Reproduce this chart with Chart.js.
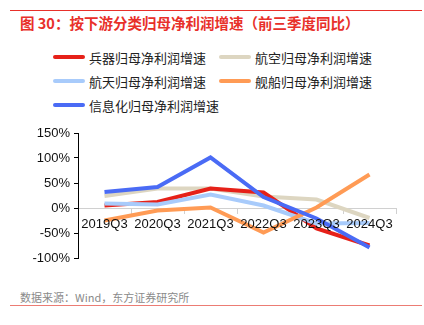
<!DOCTYPE html>
<html lang="zh">
  <head>
    <meta charset="UTF-8" />
    <title>按下游分类归母净利润增速</title>
    <script src="https://cdn.jsdelivr.net/npm/chart.js"></script>
    <style>
      body {
        margin: 0;
        width: 424px;
        height: 325px;
        background: #fff;
        position: relative;
        overflow: hidden;
        font-family: "Noto Sans CJK SC", "Noto Sans", sans-serif;
      }
      .rule {
        position: absolute;
        left: 10px;
        width: 412px;
        height: 1px;
      }
      .title {
        position: absolute;
        left: 20px;
        top: 12px;
        font-size: 14.5px;
        font-weight: bold;
        color: #e8302a;
        white-space: nowrap;
      }
      .source {
        position: absolute;
        left: 20px;
        top: 289px;
        font-size: 11px;
        color: #8a8a8a;
        white-space: nowrap;
      }
      #legend {
        position: absolute;
        left: 0;
        top: 0;
      }
      .item {
        position: absolute;
        height: 20px;
        display: flex;
        align-items: center;
        font-size: 13px;
        color: #222;
        white-space: nowrap;
      }
      .item i {
        display: inline-block;
        width: 32px;
        height: 4px;
        border-radius: 2px;
        margin-right: 4px;
      }
      #wrap {
        position: absolute;
        left: 0;
        top: 120px;
        width: 424px;
        height: 150px;
      }
    </style>
  </head>
  <body>
    <div class="rule" style="top: 10px; background: #e8302a"></div>
    <div class="title">图 30：按下游分类归母净利润增速（前三季度同比）</div>
    <div id="legend"></div>
    <div id="wrap"><canvas id="chart"></canvas></div>
    <div class="source">数据来源：Wind，东方证券研究所</div>
    <div class="rule" style="top: 305px; background: #ec7c74"></div>

    <script>
      const labels = ["2019Q3", "2020Q3", "2021Q3", "2022Q3", "2023Q3", "2024Q3"];
      const bingqi = [5, 12, 39, 31, -41, -75];      // 兵器
      const hangkong = [24, 39, 39, 23, 17, -20];    // 航空
      const hangtian = [9, 7, 27, 5, -31, -30];      // 航天
      const jianchuan = [-25, -5, 1, -49, 1, 67];    // 舰船
      const xinxihua = [32, 42, 101, 22, -21, -79];  // 信息化

      const series = [
        { label: "兵器归母净利润增速", data: bingqi, color: "#e62119" },
        { label: "航空归母净利润增速", data: hangkong, color: "#ddd6c1" },
        { label: "航天归母净利润增速", data: hangtian, color: "#a8cbfb" },
        { label: "舰船归母净利润增速", data: jianchuan, color: "#ff9b55" },
        { label: "信息化归母净利润增速", data: xinxihua, color: "#4a6bf5" },
      ];
      // draw order: later datasets on top
      const drawOrder = [1, 0, 2, 3, 4];

      // legend, two columns
      const legend = document.getElementById("legend");
      series.forEach((s, i) => {
        const el = document.createElement("div");
        el.className = "item";
        el.style.left = (i % 2 === 0 ? 53 : 219) + "px";
        el.style.top = 47 + Math.floor(i / 2) * 24 + "px";
        el.innerHTML = `<i style="background:${s.color}"></i>${s.label}`;
        legend.appendChild(el);
      });

      const tickFont = { family: "Liberation Sans, Arial, sans-serif", size: 13 };

      new Chart(document.getElementById("chart"), {
        type: "line",
        data: {
          labels,
          datasets: series.map((s, i) => ({
            label: s.label,
            data: s.data,
            borderColor: s.color,
            backgroundColor: s.color,
            borderWidth: 4,
            pointRadius: 0,
            tension: 0,
            order: -drawOrder.indexOf(i),
          })),
        },
        options: {
          responsive: true,
          maintainAspectRatio: false,
          animation: false,
          layout: { padding: { top: 13, right: 28, bottom: 12, left: 0 } },
          plugins: { legend: { display: false }, tooltip: { enabled: false } },
          scales: {
            x: {
              position: { y: 0 },
              offset: true,
              grid: {
                offset: true,
                drawOnChartArea: false,
                tickLength: 5,
                color: "#d0d0d0",
              },
              border: { color: "#d0d0d0" },
              ticks: { z: 1, color: "#111", font: tickFont, padding: 4, maxRotation: 0 },
            },
            y: {
              min: -100,
              max: 150,
              ticks: {
                stepSize: 50,
                color: "#111",
                font: tickFont,
                padding: 4,
                callback: (v) => v + "%",
              },
              grid: { drawOnChartArea: false, tickLength: 4, color: "#000" },
              border: { color: "#000", width: 1 },
              afterFit: (scale) => {
                scale.width = 78;
              },
            },
          },
        },
      });
    </script>
  </body>
</html>
